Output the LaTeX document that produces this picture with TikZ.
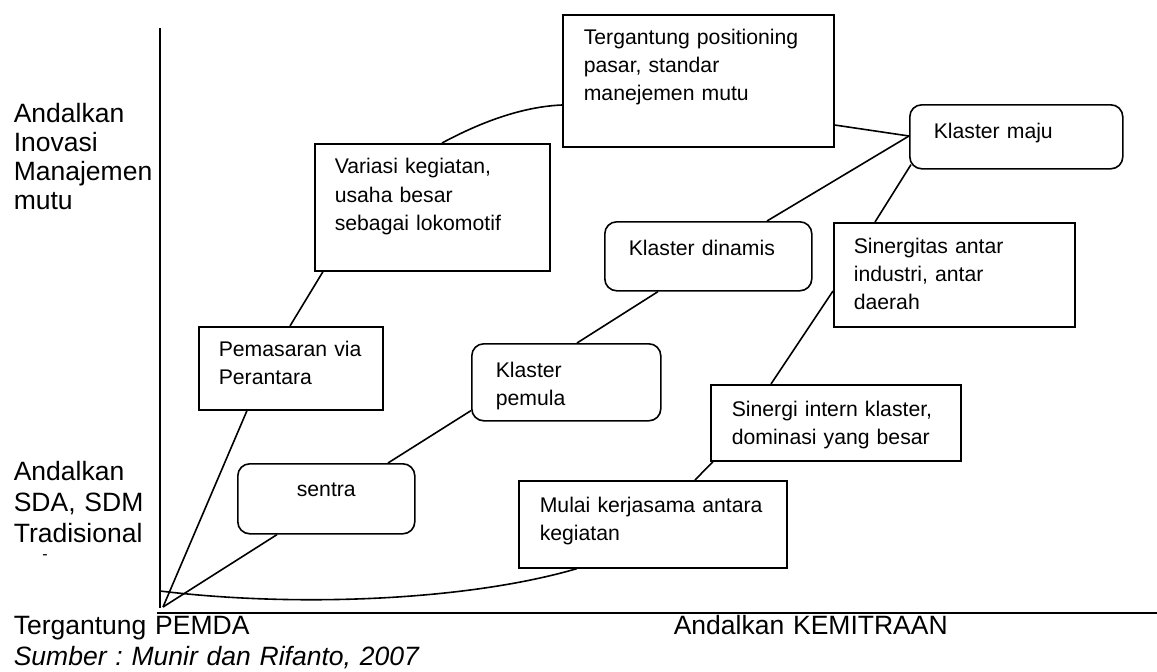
\documentclass[tikz,border=0pt]{standalone}
\usepackage{fontspec}
\setmainfont{Liberation Sans}
\usetikzlibrary{positioning}
\frenchspacing

\begin{document}
\begin{tikzpicture}[x=1pt,y=-1pt,line width=1.6pt,
  sqbox/.style={draw,anchor=north west,align=left,inner ysep=0pt,
    font=\fontsize{21.2}{28}\selectfont},
  rndbox/.style={sqbox,rounded corners=12pt},
  axlbl/.style={anchor=base west,align=left,inner sep=0pt,text width=450pt,
    font=\fontsize{26.5}{29}\selectfont}]
  \useasboundingbox (0,0) rectangle (1157,672); %Page size

  %Axes
  \coordinate (ytop) at (160,28);
  \coordinate (ybot) at (160,608);
  \coordinate (xleft) at (157,613);
  \coordinate (xright) at (1157,613);
  \coordinate (o) at (163,607);     %Common origin of the paths
  \coordinate (cstart) at (160,591); %Start of bottom curve
  \draw[line width=2pt] (ytop) -- (ybot) ; %Vertical axis
  \draw[line width=2pt] (xleft) -- (xright) ; %Horizontal axis

  %Axis labels
  \node[axlbl] (inov) at (13,122) {Andalkan\\Inovasi\\Manajemen\\mutu};
  \node[axlbl,font=\fontsize{26.5}{31}\selectfont] (sda) at (13,480) {Andalkan\\SDA, SDM\\Tradisional};
  \node[font=\fontsize{16}{16}\selectfont,inner sep=0pt] (dash) at (45,557) {-};
  \node[axlbl] (pemda) at (13,634) {Tergantung PEMDA};
  \node[axlbl] (kemit) at (673,634) {Andalkan KEMITRAAN};
  \node[axlbl,font=\fontsize{26.5}{29}\selectfont\itshape] (sumber) at (13,665) {Sumber : Munir dan Rifanto, 2007};

  %Boxes (top left corner, width = text width + 2 xsep, height = text height + depth)
  \node[sqbox,text width=229pt,inner xsep=21pt,text height=30pt,text depth=102pt] (pos) at (562,14)
    {Tergantung positioning\\pasar, standar\\manejemen mutu};
  \node[sqbox,text width=195pt,inner xsep=20pt,text height=30pt,text depth=97pt,
    font=\fontsize{21.2}{28.5}\selectfont] (var) at (314,143)
    {Variasi kegiatan,\\usaha besar\\sebagai lokomotif};
  \node[sqbox,text width=144pt,inner xsep=20pt,text height=30pt,text depth=53pt] (pem) at (198,326)
    {Pemasaran via\\Perantara};
  \node[rndbox,align=center,text width=153pt,inner xsep=12pt,text height=33pt,text depth=37pt] (sentra) at (237,463)
    {sentra};
  \node[rndbox,text width=141pt,inner xsep=24pt,text height=34pt,text depth=43pt] (pemula) at (471,343)
    {Klaster\\pemula};
  \node[rndbox,text width=159pt,inner xsep=24pt,text height=34pt,text depth=35pt] (din) at (604,221)
    {Klaster dinamis};
  \node[rndbox,text width=165pt,inner xsep=24pt,text height=34pt,text depth=30pt] (maju) at (909,104)
    {Klaster maju};
  \node[sqbox,text width=201pt,inner xsep=20pt,text height=31pt,text depth=73pt] (sgt) at (833,222)
    {Sinergitas antar\\industri, antar\\daerah};
  \node[sqbox,text width=208pt,inner xsep=21pt,text height=32pt,text depth=44pt] (sgi) at (710,384)
    {Sinergi intern klaster,\\dominasi yang besar};
  \node[sqbox,text width=226pt,inner xsep=21pt,text height=32pt,text depth=55pt] (mul) at (518,480)
    {Mulai kerjasama antara\\kegiatan};

  %Paths from the origin
  \draw (o) -- ([xshift=49pt]pem.south west) ;
  \draw (o) -- ([xshift=40pt]sentra.south west) ;
  \draw (cstart) .. controls (300,608) and (470,600) .. ([xshift=59pt]mul.south west) ;

  %Upper path
  \draw ([xshift=92pt]pem.north west) -- ([xshift=9pt]var.south west) ;
  \draw ([xshift=128pt]var.north west) .. controls (470,128) and (515,107) .. ([yshift=-91pt]pos.north west) ;
  \draw ([yshift=-111pt]pos.north east) -- ([yshift=-32pt]maju.north west) ;

  %Middle path
  \draw ([xshift=151pt]sentra.north west) -- ([yshift=11pt]pemula.south west) ;
  \draw ([xshift=106pt]pemula.north west) -- ([xshift=54pt]din.south west) ;
  \draw ([xshift=163pt]din.north west) -- ([yshift=-32pt]maju.north west) ;

  %Lower path
  \draw ([xshift=177pt]mul.north west) -- ([xshift=3pt]sgi.south west) ;
  \draw ([xshift=61pt]sgi.north west) -- ([yshift=-69pt]sgt.north west) ;
  \draw ([xshift=42pt]sgt.north west) -- ([xshift=2pt,yshift=5pt]maju.south west) ;
\end{tikzpicture}
\end{document}
